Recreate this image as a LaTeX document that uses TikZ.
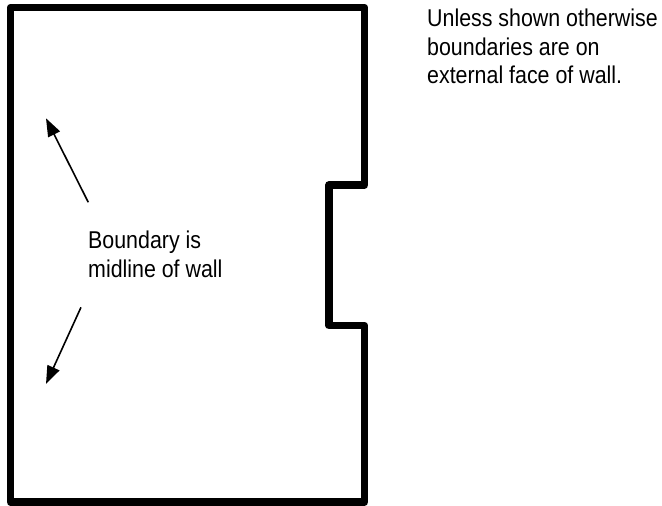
\documentclass[tikz,border=0pt]{standalone}
\usepackage{fontspec}
\setmainfont[FakeStretch=0.88]{Liberation Sans}
\usetikzlibrary{arrows.meta}
\tikzset{
  wall/.style={line width=7.6pt,line join=round,line cap=round},
  pointer/.style={line width=1.6pt,-{Triangle[length=18pt,width=13pt]}},
  note/.style={inner sep=0pt,anchor=north west,align=left,font=\fontsize{24.3}{28.2}\selectfont}
}
\begin{document}
\begin{tikzpicture}[x=1pt,y=-1pt]
\useasboundingbox (0,0) rectangle (662,506);
\draw[wall] (10.5,7.5) -- (364.5,7.5) -- (364.5,185) -- (329,185) -- (329,325.5) -- (364.5,325.5) -- (364.5,502) -- (10.5,502) -- cycle;
\node[note] (outer) at (427,9) {Unless shown otherwise\\boundaries are on\\external face of wall.};
\node[note] (mid) at (88,231) {Boundary is\\midline of wall};
\coordinate (tailA) at (88.3,202.3);
\coordinate (tipA) at (46,118.3);
\coordinate (tailB) at (81,307.3);
\coordinate (tipB) at (46,384);
\draw[pointer] (tailA) -- (tipA);
\draw[pointer] (tailB) -- (tipB);
\end{tikzpicture}
\end{document}
